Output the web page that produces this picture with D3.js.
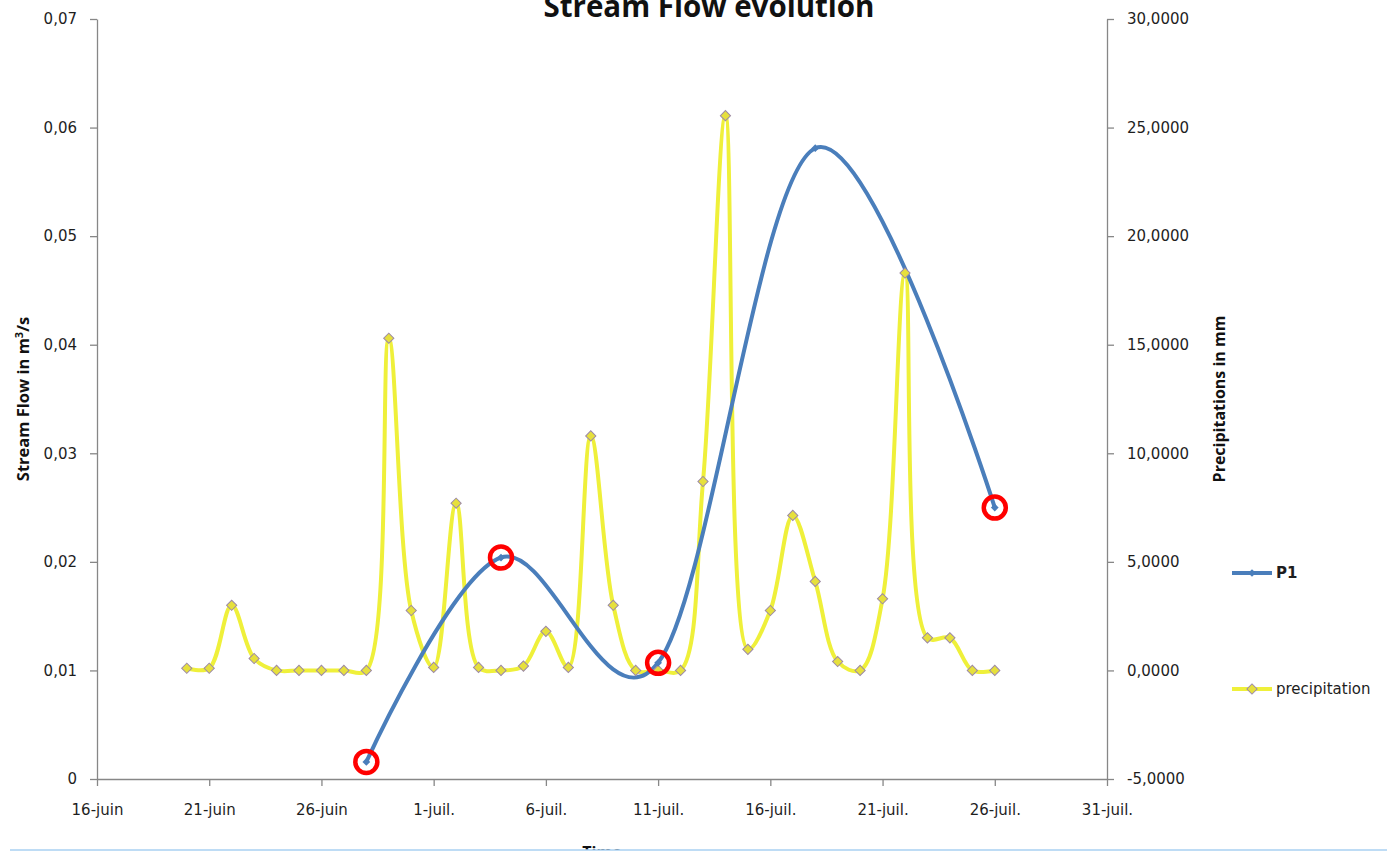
<!DOCTYPE html>
<html><head><meta charset="utf-8">
<script src="https://cdn.jsdelivr.net/npm/d3@7"></script>
<style>html,body{margin:0;padding:0;background:#fff;overflow:hidden}</style>
</head><body>
<svg id="c" width="1387" height="854"></svg>
<script>
// ---- data ----
const precipStart = "2013-06-20";
const precipitation = [0.1, 0.1, 3.0, 0.55, 0, 0, 0, 0, 0, 15.3, 2.76,
  0.14, 7.7, 0.14, 0, 0.2, 1.8, 0.14, 10.8, 3.0, 0, 0, 0, 8.7, 25.55, 0.97,
  2.76, 7.14, 4.1, 0.41, 0, 3.3, 18.3, 1.5, 1.5, 0, 0];
const p1Dates = ["2013-06-28", "2013-07-04", "2013-07-11", "2013-07-18", "2013-07-26"];
const p1Values = [0.00157, 0.0204, 0.0107, 0.0581, 0.025];
const circledDates = ["2013-06-28", "2013-07-04", "2013-07-11", "2013-07-26"];
const xTickDates = ["2013-06-16","2013-06-21","2013-06-26","2013-07-01","2013-07-06","2013-07-11","2013-07-16","2013-07-21","2013-07-26","2013-07-31"];
const xTickLabels = ["16-juin","21-juin","26-juin","1-juil.","6-juil.","11-juil.","16-juil.","21-juil.","26-juil.","31-juil."];
const leftTicks = [0, 0.01, 0.02, 0.03, 0.04, 0.05, 0.06, 0.07];
const leftTickLabels = ["0","0,01","0,02","0,03","0,04","0,05","0,06","0,07"];
const rightTicks = [-5, 0, 5, 10, 15, 20, 25, 30];
const rightTickLabels = ["-5,0000","0,0000","5,0000","10,0000","15,0000","20,0000","25,0000","30,0000"];
const seriesNames = ["P1", "precipitation"];

const parse = d3.utcParse("%Y-%m-%d");
const day0 = parse(precipStart);
const precipData = precipitation.map((v, i) => ({d: d3.utcDay.offset(day0, i), v}));
const p1Data = p1Values.map((v, i) => ({d: parse(p1Dates[i]), v, key: p1Dates[i]}));
const circled = p1Data.filter(p => circledDates.includes(p.key));

const svg = d3.select("#c");
const L = 97, R = 1107, T = 19, B = 779;
const x = d3.scaleUtc().domain([parse(xTickDates[0]), parse(xTickDates[xTickDates.length-1])]).range([L, R]);
const yL = d3.scaleLinear().domain([0, 0.07]).range([B, T]);
const yR = d3.scaleLinear().domain([-5, 30]).range([B, T]);

const axisColor = "#878787";
const tickFont = "DejaVu Sans, Verdana, sans-serif";

function styleAxis(g) {
  g.selectAll("path.domain").attr("stroke", axisColor).attr("stroke-width", 1.3);
  g.selectAll(".tick line").attr("stroke", axisColor).attr("stroke-width", 1.3);
  g.selectAll(".tick text").attr("fill", "#1e1e1e").style("font-family", tickFont).style("font-size", "15px");
}

// left axis
svg.append("g").attr("transform", `translate(${L},0)`)
  .call(d3.axisLeft(yL).tickValues(leftTicks).tickSize(7).tickPadding(13).tickSizeOuter(0)
    .tickFormat((d, i) => leftTickLabels[i]))
  .call(styleAxis);
// right axis
svg.append("g").attr("transform", `translate(${R},0)`)
  .call(d3.axisRight(yR).tickValues(rightTicks).tickSize(7).tickPadding(13).tickSizeOuter(0)
    .tickFormat((d, i) => rightTickLabels[i]))
  .call(styleAxis);
// bottom axis
svg.append("g").attr("transform", `translate(0,${B})`)
  .call(d3.axisBottom(x).tickValues(xTickDates.map(parse)).tickSize(7).tickPadding(18).tickSizeOuter(0)
    .tickFormat((d, i) => xTickLabels[i]))
  .call(styleAxis);

// series
const yellow = "#eff03a";
const blue = "#4a7ebb";
const precipLine = d3.line().x(d => x(d.d)).y(d => yR(d.v)).curve(d3.curveCatmullRom.alpha(0.5));
const p1Line = d3.line().x(d => x(d.d)).y(d => yL(d.v)).curve(d3.curveCardinal.tension(0));

svg.append("path").datum(precipData).attr("d", precipLine)
  .attr("fill", "none").attr("stroke", yellow).attr("stroke-width", 4);
svg.append("path").datum(p1Data).attr("d", p1Line)
  .attr("fill", "none").attr("stroke", blue).attr("stroke-width", 4);

const diamond = d3.symbol(d3.symbolSquare, 52);
svg.append("g").selectAll("path").data(precipData).join("path")
  .attr("d", diamond)
  .attr("transform", d => `translate(${x(d.d)},${yR(d.v)}) rotate(45)`)
  .attr("fill", "#e6e03c").attr("stroke", "#9d8aa6").attr("stroke-width", 1);
const smallDiamond = d3.symbol(d3.symbolSquare, 30);
svg.append("g").selectAll("path").data(p1Data).join("path")
  .attr("d", smallDiamond)
  .attr("transform", d => `translate(${x(d.d)},${yL(d.v)}) rotate(45)`)
  .attr("fill", blue);

// red annotation circles
svg.append("g").selectAll("circle").data(circled).join("circle")
  .attr("cx", d => x(d.d)).attr("cy", d => yL(d.v)).attr("r", 11)
  .attr("fill", "none").attr("stroke", "#ff0000").attr("stroke-width", 4.5);

// title
svg.append("text").attr("x", 709).attr("y", 17).attr("text-anchor", "middle")
  .style("font-family", "Open Sans, sans-serif").style("font-weight", "bold").style("font-size", "29.5px")
  .attr("fill", "#111").text("Stream Flow evolution");

// axis titles
const lt = svg.append("text").attr("transform", "translate(29,399) rotate(-90)").attr("text-anchor", "middle")
  .style("font-family", "Open Sans, sans-serif").style("font-weight", "bold").style("font-size", "16.5px").attr("fill", "#111");
lt.append("tspan").text("Stream Flow in m");
lt.append("tspan").attr("dy", -6).style("font-size", "11px").text("3");
lt.append("tspan").attr("dy", 6).text("/s");
svg.append("text").attr("transform", "translate(1225,399) rotate(-90)").attr("text-anchor", "middle")
  .style("font-family", "Open Sans, sans-serif").style("font-weight", "bold").style("font-size", "16px")
  .attr("fill", "#111").text("Precipitations in mm");

// x title (cut off)
svg.append("text").attr("x", 602).attr("y", 858).attr("text-anchor", "middle")
  .style("font-family", "Open Sans, sans-serif").style("font-weight", "bold").style("font-size", "16px")
  .attr("fill", "#111").text("Time");
svg.append("rect").attr("x", 0).attr("y", 850).attr("width", 1387).attr("height", 10).attr("fill", "#fff");
svg.append("line").attr("x1", 10).attr("x2", 1387).attr("y1", 850).attr("y2", 850)
  .attr("stroke", "#a9d0f2").attr("stroke-width", 1.5);

// legend
const legY = [573, 689];
const leg = svg.append("g").selectAll("g").data(seriesNames).join("g")
  .attr("transform", (d, i) => `translate(1232,${legY[i]})`);
leg.append("line").attr("x1", 0).attr("x2", 40).attr("y1", 0).attr("y2", 0)
  .attr("stroke", (d, i) => i === 0 ? blue : yellow).attr("stroke-width", 4);
leg.append("path").attr("d", (d, i) => i === 0 ? smallDiamond() : diamond())
  .attr("transform", "translate(20,0) rotate(45)")
  .attr("fill", (d, i) => i === 0 ? blue : "#e6e03c")
  .attr("stroke", (d, i) => i === 0 ? "none" : "#9d8aa6");
leg.append("text").attr("x", 44).attr("y", 5)
  .style("font-family", tickFont).style("font-size", "15px")
  .style("font-weight", (d, i) => i === 0 ? "bold" : "normal")
  .attr("fill", "#1e1e1e").text(d => d);
</script>
</body></html>
